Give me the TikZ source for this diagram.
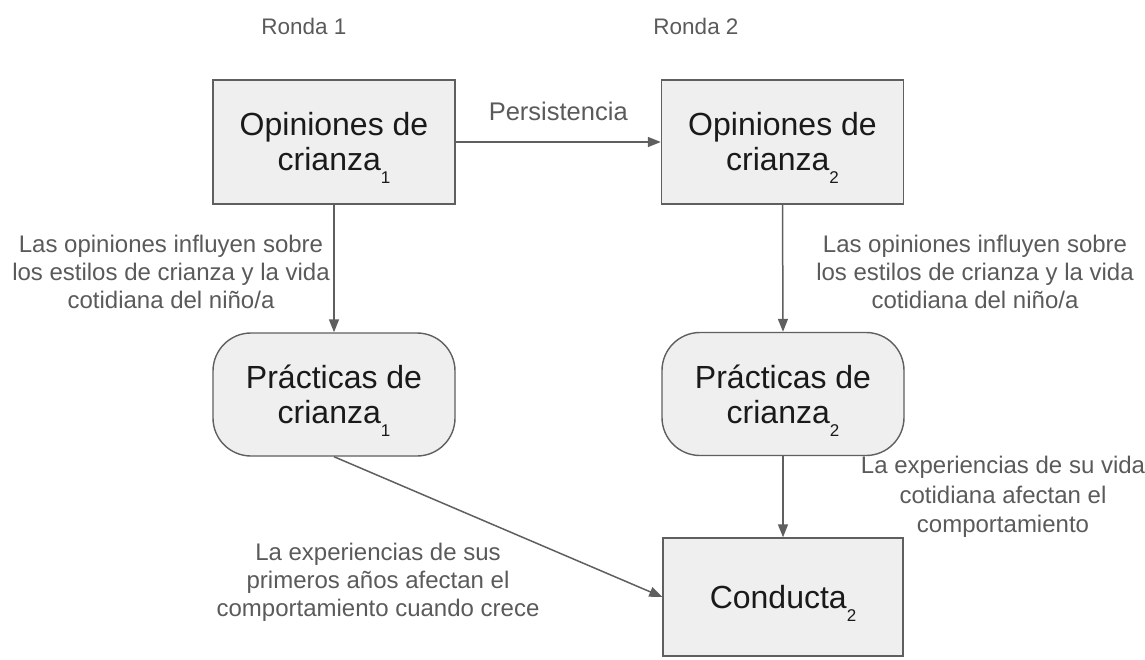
\documentclass[tikz,border=0pt]{standalone}
\usepackage{fontspec}
\setmainfont{Liberation Sans}
\usetikzlibrary{arrows.meta}
\definecolor{boxfill}{HTML}{EFEFEF}
\definecolor{boxline}{HTML}{5F5F5F}
\definecolor{labelgray}{HTML}{5A5A5A}
\definecolor{boxtext}{HTML}{1A1A1A}
\newcommand{\mysub}[1]{\raisebox{-13pt}[0pt][0pt]{\fontsize{17}{17}\selectfont #1}}
\tikzset{
  rectbox/.style={draw=boxline, fill=boxfill, line width=1.4pt, minimum width=242pt, minimum height=124pt, inner sep=0pt, align=center, text=boxtext, font=\fontsize{32}{35}\selectfont},
  pillbox/.style={rectbox, rounded corners=38pt, minimum width=242pt, minimum height=123pt},
  conn/.style={draw=boxline, line width=1.5pt, -{Triangle[length=13pt,width=10pt]}},
  lbl/.style={text=labelgray, align=center, font=\fontsize{24}{28}\selectfont, inner sep=0pt},
  title/.style={text=labelgray, font=\fontsize{22.5}{26}\selectfont, inner sep=0pt}
}
\begin{document}
\begin{tikzpicture}[x=1pt,y=-1pt]
\useasboundingbox (0,0) rectangle (1145,660);
\node[title] (r1) at (304,26) {Ronda 1};
\node[title] (r2) at (696,26) {Ronda 2};
\node[rectbox] (o1) at (334,142) {Opiniones de\\crianza\mysub{1}};
\node[rectbox] (o2) at (782.5,142) {Opiniones de\\crianza\mysub{2}};
\node[pillbox] (p1) at (334,394.5) {Prácticas de\\crianza\mysub{1}};
\node[pillbox] (p2) at (783,394) {Prácticas de\\crianza\mysub{2}};
\node[rectbox, minimum width=240pt, minimum height=118pt] (c2) at (783,597) {Conducta\mysub{2}};
\draw[conn] (o1) -- node[lbl, above=20pt, font=\fontsize{25.5}{28}\selectfont] (pers) {Persistencia} (o2);
\draw[conn] (o1.south) -- (p1.north);
\draw[conn] (o2.south) -- (p2.north);
\draw[conn] (p2.south) -- (c2.north);
\draw[conn] (p1.south) -- (c2.west);
\node[lbl] (l1) at (171,272) {Las opiniones influyen sobre\\los estilos de crianza y la vida\\cotidiana del niño/a};
\node[lbl] (l2) at (975,272) {Las opiniones influyen sobre\\los estilos de crianza y la vida\\cotidiana del niño/a};
\node[lbl, font=\fontsize{24}{29.5}\selectfont] (l3) at (1003,497) {La experiencias de su vida\\cotidiana afectan el\\comportamiento};
\node[lbl] (l4) at (378,582) {La experiencias de sus\\primeros años afectan el\\comportamiento cuando crece};
\end{tikzpicture}
\end{document}
